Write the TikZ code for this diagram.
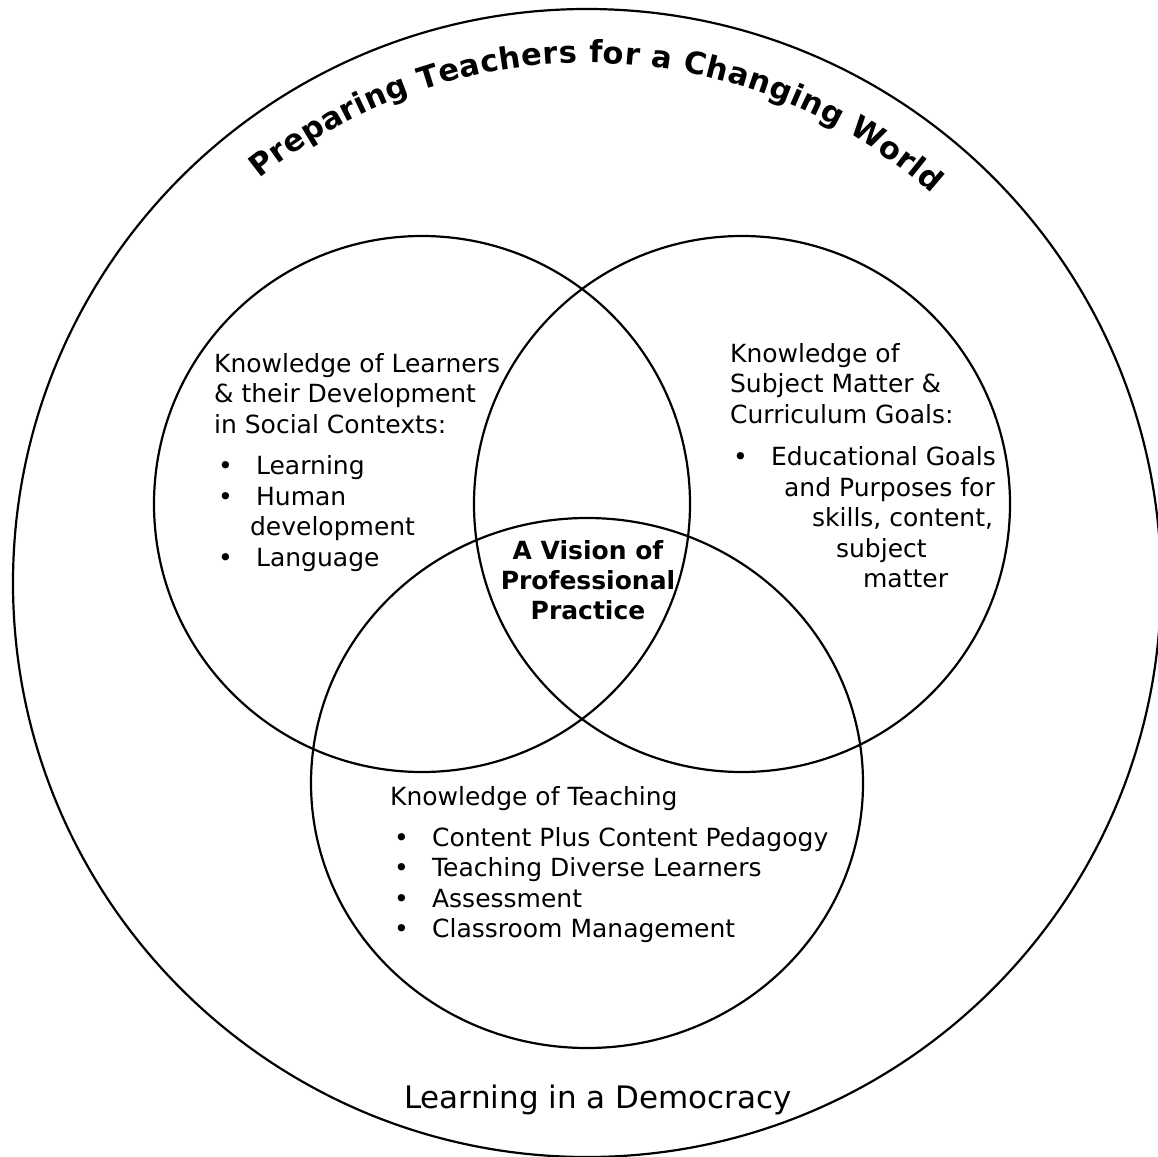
\documentclass[tikz,border=0pt]{standalone}
\usepackage{fontspec}
\setmainfont{DejaVu Sans}
\usetikzlibrary{decorations.text}

\newcommand{\itemdot}{\makebox[42pt][l]{\hspace*{4pt}\textbullet}}

\begin{document}
\begin{tikzpicture}[x = 1pt, y = -1pt, line width = 2.2pt,
	block/.style = {anchor = north west, inner sep = 0pt, align = left, font = \fontsize{25}{30.5}\selectfont},
	]
	\useasboundingbox (0, 0) rectangle (1158, 1156);
	\pgfmathsetmacro{\setr}{268}
	% the world and the three sets
	\draw (587, 583) coordinate (world) circle [radius = 574];
	\draw (422, 504) coordinate (learn) circle [radius = \setr];
	\draw (742, 504) coordinate (subj) circle [radius = \setr];
	\draw (587, 783) coordinate (teach) circle [x radius = 276, y radius = 265];
	\path [decorate, decoration = {text along path, text align = fit to path,
		text = {|\bfseries\fontsize{30.5}{32}\selectfont|Preparing Teachers for a Changing World}}]
		(world) ++ (-129:520) arc [start angle = -129, end angle = -48.5, radius = 520];
	% texts
	\node [block] (learners) at (213, 352) {Knowledge of Learners\\ \& their Development\\ in Social Contexts:\\[11pt]
		\itemdot Learning\\ \itemdot Human\\ \hspace*{36pt}development\\ \itemdot Language};
	\node [block] (subject) at (729, 342) {Knowledge of\\ Subject Matter \&\\ Curriculum Goals:\\[12pt]
		\makebox[41pt][l]{\hspace*{3pt}\textbullet}Educational Goals\\ \hspace*{54pt}and Purposes for\\
		\hspace*{82pt}skills, content,\\ \hspace*{106pt}subject\\ \hspace*{133pt}matter};
	\node [block] (teaching) at (389, 785) {Knowledge of Teaching\\[10.5pt]
		\itemdot Content Plus Content Pedagogy\\ \itemdot Teaching Diverse Learners\\ \itemdot Assessment\\ \itemdot Classroom Management};
	\node [inner sep = 0pt, align = center, font = \bfseries\fontsize{25}{30}\selectfont] (vision) at (588, 580) {A Vision of\\ Professional\\ Practice};
	\node [inner sep = 0pt, font = \fontsize{31}{36}\selectfont] (democracy) at (598, 1100) {Learning in a Democracy};
\end{tikzpicture}
\end{document}
